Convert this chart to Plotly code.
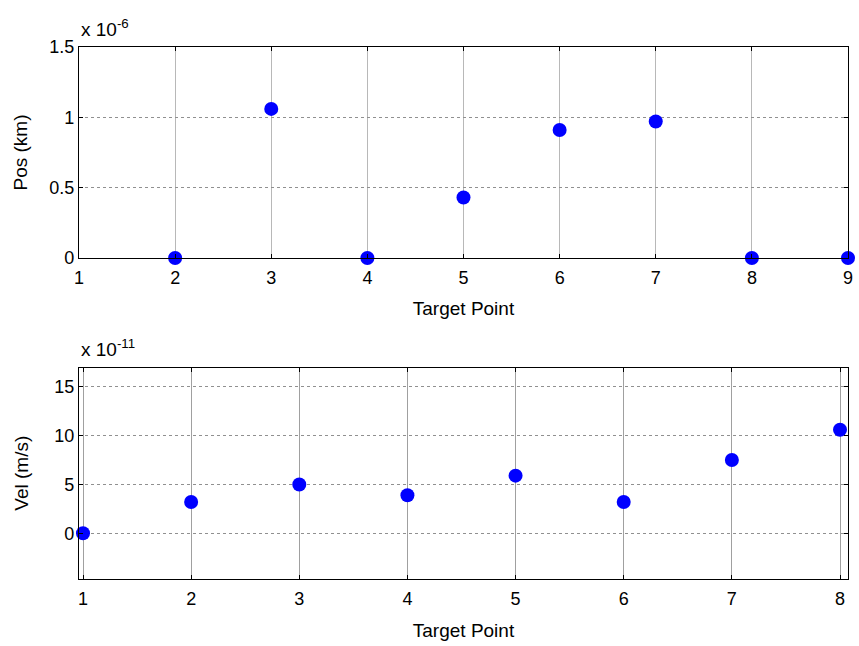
import plotly.graph_objects as go

# Data
pos_x = [2, 3, 4, 5, 6, 7, 8, 9]
pos_y = [0.0, 1.06, 0.0, 0.43, 0.91, 0.97, 0.0, 0.0]  # x 1e-6 km
vel_x = [1, 2, 3, 4, 5, 6, 7, 8]
vel_y = [0.0, 3.2, 5.0, 3.9, 5.9, 3.2, 7.5, 10.6]  # x 1e-11 m/s

top_xticks = [1, 2, 3, 4, 5, 6, 7, 8, 9]
top_yticks = [0, 0.5, 1, 1.5]
top_yticklabels = ["0", "0.5", "1", "1.5"]
bot_xticks = [1, 2, 3, 4, 5, 6, 7, 8]
bot_yticks = [0, 5, 10, 15]

W, H = 859, 646
FONT = "Liberation Sans, Arial, sans-serif"

fig = go.Figure()
fig.add_trace(go.Scatter(x=pos_x, y=pos_y, mode="markers",
                         marker=dict(color="#0000ff", size=14, line=dict(width=0)),
                         cliponaxis=False, xaxis="x", yaxis="y", showlegend=False))
fig.add_trace(go.Scatter(x=vel_x, y=vel_y, mode="markers",
                         marker=dict(color="#0000ff", size=14, line=dict(width=0)),
                         cliponaxis=False, xaxis="x2", yaxis="y2", showlegend=False))

xdom = [79 / W, 848 / W]
top_dom = [1 - 258 / H, 1 - 47 / H]
bot_dom = [1 - 578.7 / H, 1 - 367.7 / H]

common = dict(showline=True, linecolor="black", linewidth=1.2, mirror="ticks",
              ticks="inside", ticklen=4, tickcolor="black", zeroline=False,
              automargin=False,
              tickfont=dict(family=FONT, size=18, color="black"))

fig.update_layout(
    width=W, height=H, margin=dict(l=0, r=0, t=0, b=0, autoexpand=False),
    plot_bgcolor="white", paper_bgcolor="white",
    font=dict(family=FONT, size=18, color="black"),
    xaxis=dict(domain=xdom, range=[1, 9], tickvals=top_xticks, anchor="y",
               showgrid=True, gridcolor="#b8b8b8", gridwidth=1,
               ticklabelstandoff=3,
               title=dict(text="Target Point", font=dict(size=19), standoff=14),
               **common),
    yaxis=dict(domain=top_dom, range=[0, 1.5], tickvals=top_yticks, ticktext=top_yticklabels,
               anchor="x", showgrid=True, gridcolor="#909090", griddash="dot", gridwidth=1,
               title=dict(text="Pos (km)", font=dict(size=19), standoff=16),
               **common),
    xaxis2=dict(domain=xdom, range=[0.963, 8.074], tickvals=bot_xticks, anchor="y2",
                showgrid=True, gridcolor="#a0a0a0", gridwidth=1,
                ticklabelstandoff=4,
                title=dict(text="Target Point", font=dict(size=19), standoff=15),
                **common),
    yaxis2=dict(domain=bot_dom, range=[-4.65, 16.95], tickvals=bot_yticks, anchor="x2",
                showgrid=True, gridcolor="#909090", griddash="dot", gridwidth=1,
                title=dict(text="Vel (m/s)", font=dict(size=19), standoff=20),
                **common),
    annotations=[
        dict(text="x 10<sup>-6</sup>", x=79 / W, y=1 - 42 / H, xref="paper", yref="paper",
             xanchor="left", yanchor="bottom", showarrow=False,
             font=dict(family=FONT, size=19, color="black")),
        dict(text="x 10<sup>-11</sup>", x=79 / W, y=1 - 362 / H, xref="paper", yref="paper",
             xanchor="left", yanchor="bottom", showarrow=False,
             font=dict(family=FONT, size=19, color="black")),
    ],
)

fig.write_html("out.html")
